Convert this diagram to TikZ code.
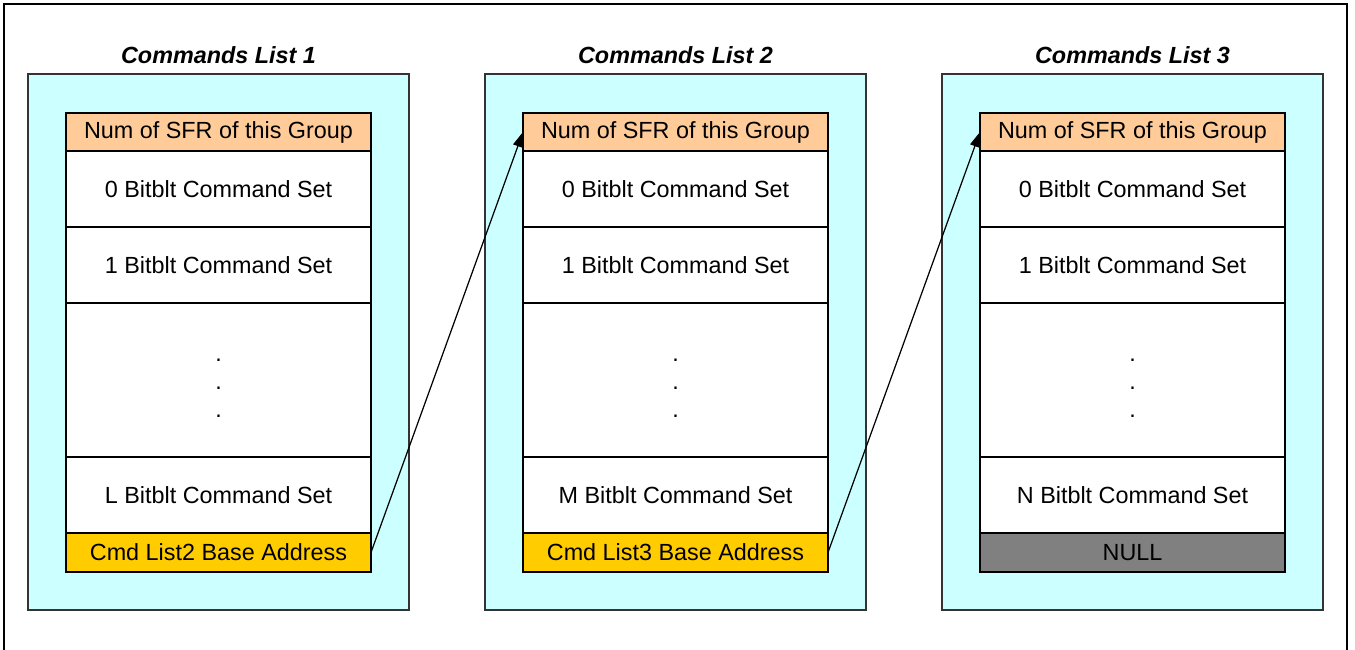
\documentclass[tikz,border=0pt]{standalone}
\usepackage{fontspec}
\setmainfont{Liberation Sans}
\usepackage{xcolor}
\usetikzlibrary{arrows.meta, positioning}
\definecolor{listcyan}{HTML}{CCFFFF}
\definecolor{hdrorange}{HTML}{FFCC99}
\definecolor{baseyellow}{HTML}{FFCC00}
\definecolor{nullgray}{HTML}{808080}
\begin{document}
\begin{tikzpicture}[
    listbox/.style={rectangle, draw=black!80, fill=listcyan, line width=0.7pt, minimum width=7.62cm, minimum height=10.72cm, inner sep=0pt, outer sep=0pt},
    cell/.style={rectangle, draw=black, line width=0.7pt, minimum width=6.1cm, inner sep=0pt, outer sep=0pt, font=\fontsize{13.3}{16}\selectfont},
    hdrcell/.style={cell, fill=hdrorange, minimum height=0.76cm},
    cmdcell/.style={cell, fill=white, minimum height=1.52cm},
    dotscell/.style={cell, fill=white, minimum height=3.08cm},
    dotsmark/.style={inner sep=0pt, align=center, font=\fontsize{13.3}{15.9}\selectfont},
    basecell/.style={cell, fill=baseyellow, minimum height=0.78cm},
    nullcell/.style={cell, fill=nullgray, minimum height=0.78cm},
    listtitle/.style={font=\fontsize{13.3}{16}\selectfont\bfseries\itshape},
    arrow/.style={-{Triangle[length=3mm, width=2mm]}, line width=0.7pt}
]
\useasboundingbox (0,0) rectangle (27.1,13);

% Outer frame (bottom edge lies below the page)
\draw[line width=1.2pt] (0.08,0) -- (0.08,12.92) -- (26.94,12.92) -- (26.94,0);

% Cyan list boxes
\node[listbox] (boxA) at (4.37, 6.16) {};
\node[listbox] (boxB) at (13.51, 6.16) {};
\node[listbox] (boxC) at (22.65, 6.16) {};

% List titles
\node[listtitle] (titleA) at (4.37, 11.9) {Commands List 1};
\node[listtitle] (titleB) at (13.51, 11.9) {Commands List 2};
\node[listtitle] (titleC) at (22.65, 11.9) {Commands List 3};

% Commands List 1
\node[hdrcell] (hdrA) at (4.37, 10.36) {Num of SFR of this Group};
\node[cmdcell, below=0pt of hdrA] (setA0) {0 Bitblt Command Set};
\node[cmdcell, below=0pt of setA0] (setA1) {1 Bitblt Command Set};
\node[dotscell, below=0pt of setA1] (dotsA) {};
\node[cmdcell, below=0pt of dotsA] (lastA) {L Bitblt Command Set};
\node[basecell, below=0pt of lastA] (baseA) {Cmd List2 Base Address};

% Commands List 2
\node[hdrcell] (hdrB) at (13.51, 10.36) {Num of SFR of this Group};
\node[cmdcell, below=0pt of hdrB] (setB0) {0 Bitblt Command Set};
\node[cmdcell, below=0pt of setB0] (setB1) {1 Bitblt Command Set};
\node[dotscell, below=0pt of setB1] (dotsB) {};
\node[cmdcell, below=0pt of dotsB] (lastB) {M Bitblt Command Set};
\node[basecell, below=0pt of lastB] (baseB) {Cmd List3 Base Address};

% Commands List 3
\node[hdrcell] (hdrC) at (22.65, 10.36) {Num of SFR of this Group};
\node[cmdcell, below=0pt of hdrC] (setC0) {0 Bitblt Command Set};
\node[cmdcell, below=0pt of setC0] (setC1) {1 Bitblt Command Set};
\node[dotscell, below=0pt of setC1] (dotsC) {};
\node[cmdcell, below=0pt of dotsC] (lastC) {N Bitblt Command Set};
\node[nullcell, below=0pt of lastC] (nullC) {NULL};

% Vertical ellipsis in the middle rows
\node[dotsmark] (ellA) at ([yshift=-0.16cm]dotsA.center) {.\\.\\.};
\node[dotsmark] (ellB) at ([yshift=-0.16cm]dotsB.center) {.\\.\\.};
\node[dotsmark] (ellC) at ([yshift=-0.16cm]dotsC.center) {.\\.\\.};

% Links to the next list
\draw[arrow] (baseA.east) -- (hdrB.west);
\draw[arrow] (baseB.east) -- (hdrC.west);

\end{tikzpicture}
\end{document}
